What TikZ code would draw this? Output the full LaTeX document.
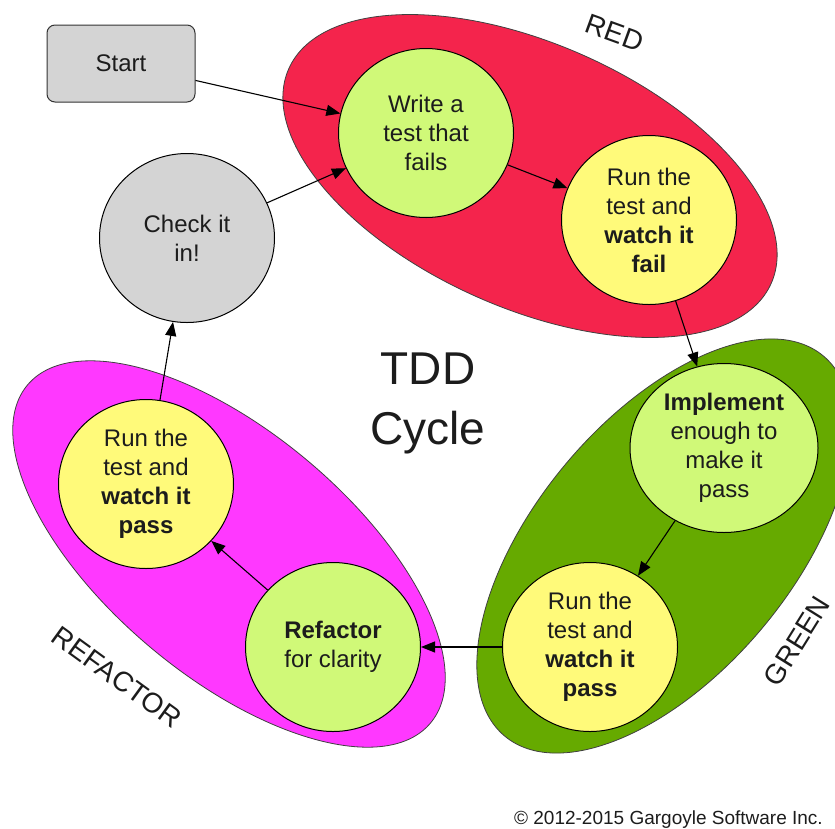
\documentclass[tikz,border=0pt]{standalone}
\usepackage{fontspec}
\setmainfont{Liberation Sans}
\usetikzlibrary{shapes.geometric,arrows.meta}

\definecolor{zonered}{RGB}{244,36,76}
\definecolor{zonegreen}{RGB}{102,170,0}
\definecolor{zonemagenta}{RGB}{255,56,255}
\definecolor{stagelime}{RGB}{208,249,120}
\definecolor{stageyellow}{RGB}{255,250,122}
\definecolor{stagegray}{RGB}{212,212,212}
\definecolor{inkgray}{RGB}{28,28,28}

\begin{document}
\begin{tikzpicture}[x=1pt,y=-1pt,
  zone/.style={ellipse, draw=black!75, line width=0.8pt, inner sep=0pt},
  stage/.style={ellipse, draw=black, line width=1pt, inner sep=0pt,
    minimum width=175pt, minimum height=169pt, align=center,
    text=inkgray, font=\fontsize{24}{29}\selectfont},
  startbox/.style={rectangle, rounded corners=8pt, draw=black!80, line width=1pt,
    fill=stagegray, minimum width=148pt, minimum height=77pt, inner sep=0pt,
    text=inkgray, font=\fontsize{24}{29}\selectfont},
  zonelabel/.style={inner sep=0pt, text=inkgray, font=\fontsize{28}{32}\selectfont},
  flow/.style={-{Triangle[length=14pt,width=11pt]}, line width=1.1pt, draw=black}]

\useasboundingbox (0,0) rectangle (835,828);

% the three phase zones
\node[zone, fill=zonered, minimum width=528pt, minimum height=264pt, rotate=-24]
  (redzone) at (530,176) {};
\node[zone, fill=zonegreen, minimum width=496pt, minimum height=256pt, rotate=50]
  (greenzone) at (664,546) {};
\node[zone, fill=zonemagenta, minimum width=526pt, minimum height=244pt, rotate=-40]
  (refzone) at (229,554) {};

% zone captions
\node[zonelabel, rotate=-20] (redlabel) at (615,33) {RED};
\node[zonelabel, rotate=58] (greenlabel) at (797,641) {GREEN};
\node[zonelabel, rotate=-36] (reflabel) at (117,677) {REFACTOR};

% steps of the cycle
\node[startbox] (start) at (121,63.5) {Start};
\node[stage, fill=stagegray] (checkin) at (187,238) {Check it\\in!};
\node[stage, fill=stagelime] (write) at (426,133) {Write a\\test that\\fails};
\node[stage, fill=stageyellow] (fail) at (649,220)
  {Run the\\test and\\\textbf{watch it}\\\textbf{fail}};
\node[stage, fill=stagelime, minimum width=188pt] (impl) at (724,448)
  {\textbf{Implement}\\enough to\\make it\\pass};
\node[stage, fill=stageyellow] (greenpass) at (590,647)
  {Run the\\test and\\\textbf{watch it}\\\textbf{pass}};
\node[stage, fill=stagelime] (refactor) at (333,647)
  {\textbf{Refactor}\\for clarity};
\node[stage, fill=stageyellow] (refpass) at (146,484)
  {Run the\\test and\\\textbf{watch it}\\\textbf{pass}};

% title in the middle
\node[align=center, text=inkgray, font=\fontsize{46}{60}\selectfont] (title)
  at (428,403) {TDD\\Cycle};

% copyright line
\node[anchor=base east, inner sep=0pt, text=inkgray, font=\fontsize{19}{22}\selectfont]
  (copyright) at (823,824) {\textcopyright{} 2012-2015 Gargoyle Software Inc.};

% transitions
\draw[flow] (start) -- (write);
\draw[flow] (checkin) -- (write);
\draw[flow] (write) -- (fail);
\draw[flow] (fail) -- (impl);
\draw[flow] (impl) -- (greenpass);
\draw[flow] (greenpass) -- (refactor);
\draw[flow] (refactor) -- (refpass);
\draw[flow] (refpass) -- (checkin);
\end{tikzpicture}
\end{document}
